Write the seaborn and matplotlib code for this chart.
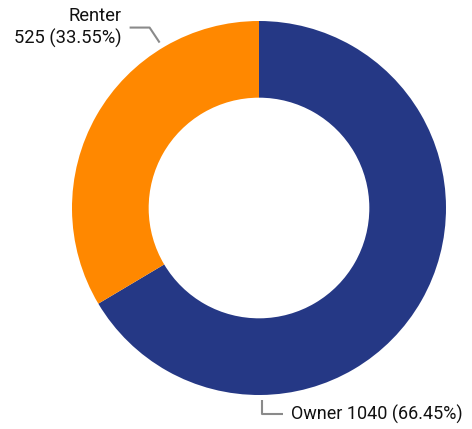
import numpy as np
import matplotlib.pyplot as plt
import seaborn as sns

sns.set_style('white')
plt.rcParams['font.family'] = ['Roboto', 'DejaVu Sans']

# data
categories = ['Owner', 'Renter']
counts = [1040, 525]
colors = ['#253885', '#FF8800']

total = sum(counts)
pcts = [c / total * 100 for c in counts]

fig = plt.figure(figsize=(4.72, 4.29), dpi=100)
ax = fig.add_axes([0, 0, 1, 1])

# work in pixel-like units so the donut lands where the reference has it
cx, cy, r = 259, 429 - 208, 187
wedges, _ = ax.pie(counts, colors=colors, startangle=90, counterclock=False,
                   radius=r, center=(cx, cy),
                   wedgeprops=dict(width=r * 0.41, linewidth=0))
ax.set_xlim(0, 472)
ax.set_ylim(0, 429)
ax.set_aspect('equal')
ax.axis('off')

line_kw = dict(color='#8a8a8a', lw=1.5, solid_capstyle='butt')

# Renter label (upper left)
ang = np.deg2rad(121)
x0, y0 = cx + (r + 6) * np.cos(ang), cy + (r + 6) * np.sin(ang)
ax.plot([x0, x0 - 10, x0 - 30], [y0, y0 + 15, y0 + 15], **line_kw)
ax.text(x0 - 38, y0 + 15, f'{categories[1]}\n{counts[1]} ({pcts[1]:.2f}%)',
        ha='right', va='center', fontsize=13.2, color='#111111', linespacing=1.2)

# Owner label (bottom)
ang = np.deg2rad(-89)
x0, y0 = cx + (r + 5) * np.cos(ang), cy + (r + 5) * np.sin(ang)
ax.plot([x0, x0, x0 + 21], [y0, y0 - 14, y0 - 14], **line_kw)
ax.text(x0 + 29, y0 - 14, f'{categories[0]} {counts[0]} ({pcts[0]:.2f}%)',
        ha='left', va='center', fontsize=13, color='#111111')

fig.savefig('out.png', dpi=100)
